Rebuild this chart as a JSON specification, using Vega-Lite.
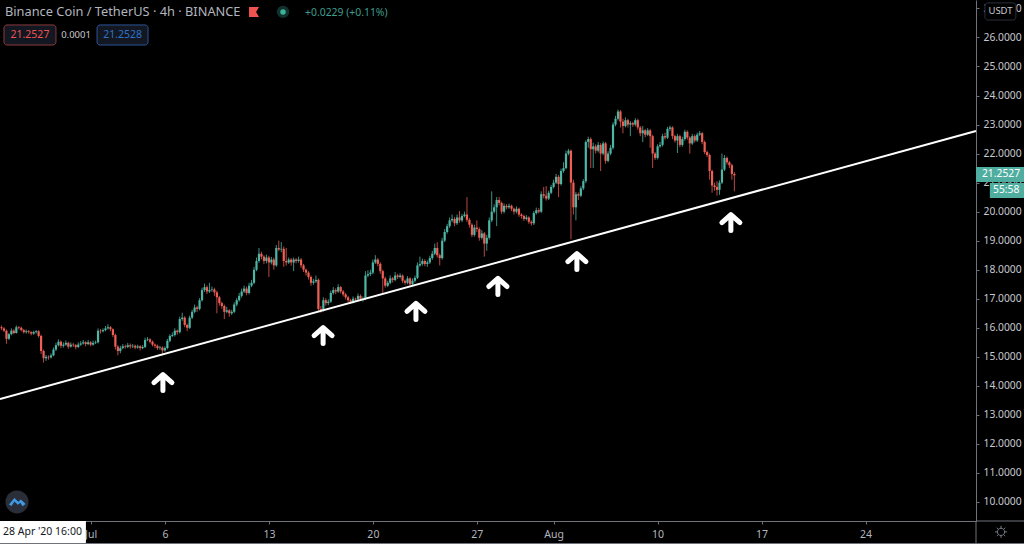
{
"$schema":"https://vega.github.io/schema/vega-lite/v6.json",
"width":976,"height":521,
"autosize":{"type":"none"},
"padding":{"left":0,"top":0,"right":48,"bottom":23},
"background":"#000000",
"config":{"view":{"stroke":null},"font":"Noto Sans"},
"datasets":{
"candles":[
{"t":1,"o":16.02,"h":16.08,"l":15.92,"c":15.98},{"t":2,"o":15.98,"h":16.02,"l":15.85,"c":15.9},{"t":3,"o":15.9,"h":15.94,"l":15.45,"c":15.62},{"t":4,"o":15.62,"h":15.82,"l":15.58,"c":15.78},{"t":5,"o":15.78,"h":15.98,"l":15.74,"c":15.9},{"t":6,"o":15.9,"h":15.96,"l":15.78,"c":15.82},{"t":7,"o":15.82,"h":16.08,"l":15.8,"c":16.02},{"t":8,"o":16.02,"h":16.06,"l":15.94,"c":16},{"t":9,"o":16,"h":16.04,"l":15.88,"c":15.92},{"t":10,"o":15.92,"h":15.96,"l":15.8,"c":15.85},
{"t":11,"o":15.85,"h":15.94,"l":15.8,"c":15.88},{"t":12,"o":15.88,"h":15.92,"l":15.8,"c":15.85},{"t":13,"o":15.85,"h":15.88,"l":15.74,"c":15.8},{"t":14,"o":15.8,"h":15.9,"l":15.76,"c":15.85},{"t":15,"o":15.85,"h":15.92,"l":15.8,"c":15.88},{"t":16,"o":15.88,"h":15.92,"l":15.66,"c":15.72},{"t":17,"o":15.72,"h":15.76,"l":15.1,"c":15.2},{"t":18,"o":15.2,"h":15.25,"l":14.8,"c":14.95},{"t":19,"o":14.95,"h":15.06,"l":14.86,"c":15},{"t":20,"o":15,"h":15.05,"l":14.9,"c":14.98},
{"t":21,"o":14.98,"h":15.12,"l":14.94,"c":15.05},{"t":22,"o":15.05,"h":15.32,"l":15.02,"c":15.25},{"t":23,"o":15.25,"h":15.48,"l":15.2,"c":15.4},{"t":24,"o":15.4,"h":15.6,"l":15.36,"c":15.52},{"t":25,"o":15.52,"h":15.56,"l":15.3,"c":15.38},{"t":26,"o":15.38,"h":15.5,"l":15.32,"c":15.42},{"t":27,"o":15.42,"h":15.56,"l":15.38,"c":15.48},{"t":28,"o":15.48,"h":15.52,"l":15.28,"c":15.35},{"t":29,"o":15.35,"h":15.5,"l":15.32,"c":15.42},{"t":30,"o":15.42,"h":15.48,"l":15.34,"c":15.4},
{"t":31,"o":15.4,"h":15.44,"l":15.26,"c":15.34},{"t":32,"o":15.34,"h":15.5,"l":15.3,"c":15.42},{"t":33,"o":15.42,"h":15.54,"l":15.38,"c":15.46},{"t":34,"o":15.46,"h":15.58,"l":15.42,"c":15.5},{"t":35,"o":15.5,"h":15.54,"l":15.36,"c":15.44},{"t":36,"o":15.44,"h":15.58,"l":15.4,"c":15.5},{"t":37,"o":15.5,"h":15.54,"l":15.36,"c":15.42},{"t":38,"o":15.42,"h":15.56,"l":15.38,"c":15.48},{"t":39,"o":15.48,"h":15.56,"l":15.44,"c":15.5},{"t":40,"o":15.5,"h":15.98,"l":15.46,"c":15.9},
{"t":41,"o":15.9,"h":15.96,"l":15.8,"c":15.88},{"t":42,"o":15.88,"h":15.98,"l":15.84,"c":15.92},{"t":43,"o":15.92,"h":16.06,"l":15.88,"c":15.98},{"t":44,"o":15.98,"h":16.12,"l":15.94,"c":16.02},{"t":45,"o":16.02,"h":16.06,"l":15.88,"c":15.95},{"t":46,"o":15.95,"h":15.98,"l":15.68,"c":15.75},{"t":47,"o":15.75,"h":15.8,"l":15.25,"c":15.35},{"t":48,"o":15.35,"h":15.4,"l":15.05,"c":15.2},{"t":49,"o":15.2,"h":15.38,"l":15.12,"c":15.3},{"t":50,"o":15.3,"h":15.44,"l":15.26,"c":15.36},
{"t":51,"o":15.36,"h":15.42,"l":15.28,"c":15.34},{"t":52,"o":15.34,"h":15.48,"l":15.3,"c":15.4},{"t":53,"o":15.4,"h":15.46,"l":15.28,"c":15.36},{"t":54,"o":15.36,"h":15.44,"l":15.3,"c":15.38},{"t":55,"o":15.38,"h":15.42,"l":15.26,"c":15.32},{"t":56,"o":15.32,"h":15.42,"l":15.28,"c":15.36},{"t":57,"o":15.36,"h":15.4,"l":15.22,"c":15.3},{"t":58,"o":15.3,"h":15.4,"l":15.26,"c":15.34},{"t":59,"o":15.34,"h":15.66,"l":15.3,"c":15.58},{"t":60,"o":15.58,"h":15.68,"l":15.54,"c":15.6},
{"t":61,"o":15.6,"h":15.64,"l":15.46,"c":15.52},{"t":62,"o":15.52,"h":15.56,"l":15.36,"c":15.42},{"t":63,"o":15.42,"h":15.46,"l":15.3,"c":15.38},{"t":64,"o":15.38,"h":15.42,"l":15.24,"c":15.3},{"t":65,"o":15.3,"h":15.38,"l":15.24,"c":15.32},{"t":66,"o":15.32,"h":15.36,"l":15.05,"c":15.22},{"t":67,"o":15.22,"h":15.36,"l":15.18,"c":15.3},{"t":68,"o":15.3,"h":15.62,"l":15.26,"c":15.55},{"t":69,"o":15.55,"h":15.78,"l":15.5,"c":15.72},{"t":70,"o":15.72,"h":15.84,"l":15.68,"c":15.75},
{"t":71,"o":15.75,"h":15.98,"l":15.7,"c":15.9},{"t":72,"o":15.9,"h":15.94,"l":15.76,"c":15.85},{"t":73,"o":15.85,"h":16.38,"l":15.8,"c":16.3},{"t":74,"o":16.3,"h":16.52,"l":16.24,"c":16.35},{"t":75,"o":16.35,"h":16.4,"l":16.02,"c":16.1},{"t":76,"o":16.1,"h":16.14,"l":15.88,"c":16},{"t":77,"o":16,"h":16.42,"l":15.96,"c":16.35},{"t":78,"o":16.35,"h":16.62,"l":16.3,"c":16.55},{"t":79,"o":16.55,"h":16.8,"l":16.5,"c":16.7},{"t":80,"o":16.7,"h":16.76,"l":16.54,"c":16.65},
{"t":81,"o":16.65,"h":17.02,"l":16.6,"c":16.95},{"t":82,"o":16.95,"h":17.38,"l":16.9,"c":17.3},{"t":83,"o":17.3,"h":17.52,"l":17.24,"c":17.4},{"t":84,"o":17.4,"h":17.46,"l":17.16,"c":17.25},{"t":85,"o":17.25,"h":17.55,"l":17.2,"c":17.3},{"t":86,"o":17.3,"h":17.42,"l":17.24,"c":17.32},{"t":87,"o":17.32,"h":17.38,"l":17.1,"c":17.22},{"t":88,"o":17.22,"h":17.28,"l":16.5,"c":17.05},{"t":89,"o":17.05,"h":17.1,"l":16.76,"c":16.85},{"t":90,"o":16.85,"h":16.9,"l":16.66,"c":16.75},
{"t":91,"o":16.75,"h":16.8,"l":16.3,"c":16.55},{"t":92,"o":16.55,"h":16.72,"l":16.5,"c":16.6},{"t":93,"o":16.6,"h":16.64,"l":16.38,"c":16.5},{"t":94,"o":16.5,"h":16.62,"l":16.44,"c":16.55},{"t":95,"o":16.55,"h":16.88,"l":16.5,"c":16.8},{"t":96,"o":16.8,"h":17.02,"l":16.74,"c":16.95},{"t":97,"o":16.95,"h":17.2,"l":16.9,"c":17.1},{"t":98,"o":17.1,"h":17.35,"l":17.04,"c":17.25},{"t":99,"o":17.25,"h":17.45,"l":17.2,"c":17.35},{"t":100,"o":17.35,"h":17.42,"l":17.12,"c":17.2},
{"t":101,"o":17.2,"h":17.55,"l":17.15,"c":17.45},{"t":102,"o":17.45,"h":17.65,"l":17.4,"c":17.55},{"t":103,"o":17.55,"h":18.1,"l":17.5,"c":18},{"t":104,"o":18,"h":18.42,"l":17.95,"c":18.3},{"t":105,"o":18.3,"h":18.75,"l":18.24,"c":18.55},{"t":106,"o":18.55,"h":18.62,"l":18.36,"c":18.45},{"t":107,"o":18.45,"h":18.5,"l":18.2,"c":18.3},{"t":108,"o":18.3,"h":18.52,"l":18.22,"c":18.42},{"t":109,"o":18.42,"h":18.48,"l":17.75,"c":18.25},{"t":110,"o":18.25,"h":18.44,"l":18.18,"c":18.35},
{"t":111,"o":18.35,"h":18.42,"l":18,"c":18.15},{"t":112,"o":18.15,"h":18.85,"l":18.1,"c":18.75},{"t":113,"o":18.75,"h":19,"l":18.64,"c":18.7},{"t":114,"o":18.7,"h":18.95,"l":18.6,"c":18.72},{"t":115,"o":18.72,"h":18.8,"l":18.1,"c":18.3},{"t":116,"o":18.3,"h":18.75,"l":18.14,"c":18.25},{"t":117,"o":18.25,"h":18.42,"l":18.2,"c":18.35},{"t":118,"o":18.35,"h":18.4,"l":18.14,"c":18.25},{"t":119,"o":18.25,"h":18.42,"l":17.95,"c":18.35},{"t":120,"o":18.35,"h":18.4,"l":18.22,"c":18.3},
{"t":121,"o":18.3,"h":18.45,"l":18.24,"c":18.35},{"t":122,"o":18.35,"h":18.4,"l":18.06,"c":18.15},{"t":123,"o":18.15,"h":18.2,"l":17.92,"c":18},{"t":124,"o":18,"h":18.04,"l":17.8,"c":17.9},{"t":125,"o":17.9,"h":17.95,"l":17.66,"c":17.75},{"t":126,"o":17.75,"h":17.8,"l":17.45,"c":17.55},{"t":127,"o":17.55,"h":17.68,"l":17.48,"c":17.6},{"t":128,"o":17.6,"h":17.8,"l":17.54,"c":17.65},{"t":129,"o":17.65,"h":17.7,"l":16.55,"c":16.65},{"t":130,"o":16.65,"h":16.75,"l":16.52,"c":16.6},
{"t":131,"o":16.6,"h":17.05,"l":16.56,"c":16.95},{"t":132,"o":16.95,"h":17.02,"l":16.76,"c":16.85},{"t":133,"o":16.85,"h":16.98,"l":16.78,"c":16.9},{"t":134,"o":16.9,"h":17.28,"l":16.86,"c":17.2},{"t":135,"o":17.2,"h":17.4,"l":17.14,"c":17.3},{"t":136,"o":17.3,"h":17.36,"l":17.16,"c":17.25},{"t":137,"o":17.25,"h":17.5,"l":17.2,"c":17.4},{"t":138,"o":17.4,"h":17.44,"l":17.18,"c":17.25},{"t":139,"o":17.25,"h":17.3,"l":17.08,"c":17.15},{"t":140,"o":17.15,"h":17.2,"l":16.98,"c":17.05},
{"t":141,"o":17.05,"h":17.1,"l":16.88,"c":16.95},{"t":142,"o":16.95,"h":17,"l":16.82,"c":16.9},{"t":143,"o":16.9,"h":17.08,"l":16.84,"c":17},{"t":144,"o":17,"h":17.04,"l":16.9,"c":16.98},{"t":145,"o":16.98,"h":17.18,"l":16.92,"c":17.1},{"t":146,"o":17.1,"h":17.15,"l":16.92,"c":17},{"t":147,"o":17,"h":17.08,"l":16.9,"c":17},{"t":148,"o":17,"h":17.95,"l":16.95,"c":17.8},{"t":149,"o":17.8,"h":17.98,"l":17.74,"c":17.85},{"t":150,"o":17.85,"h":18,"l":17.78,"c":17.9},
{"t":151,"o":17.9,"h":18.35,"l":17.84,"c":18.25},{"t":152,"o":18.25,"h":18.5,"l":18.2,"c":18.35},{"t":153,"o":18.35,"h":18.4,"l":18.12,"c":18.2},{"t":154,"o":18.2,"h":18.26,"l":17.86,"c":17.95},{"t":155,"o":17.95,"h":18,"l":17.2,"c":17.7},{"t":156,"o":17.7,"h":17.76,"l":17.38,"c":17.45},{"t":157,"o":17.45,"h":17.62,"l":17.4,"c":17.55},{"t":158,"o":17.55,"h":17.8,"l":17.5,"c":17.7},{"t":159,"o":17.7,"h":17.75,"l":17.56,"c":17.65},{"t":160,"o":17.65,"h":17.92,"l":17.6,"c":17.8},
{"t":161,"o":17.8,"h":17.86,"l":17.68,"c":17.75},{"t":162,"o":17.75,"h":17.88,"l":17.7,"c":17.8},{"t":163,"o":17.8,"h":17.84,"l":17.54,"c":17.62},{"t":164,"o":17.62,"h":17.66,"l":17.48,"c":17.55},{"t":165,"o":17.55,"h":17.78,"l":17.5,"c":17.7},{"t":166,"o":17.7,"h":17.74,"l":17.42,"c":17.5},{"t":167,"o":17.5,"h":17.7,"l":17.46,"c":17.62},{"t":168,"o":17.62,"h":17.8,"l":17.56,"c":17.72},{"t":169,"o":17.72,"h":18.25,"l":17.68,"c":18.15},{"t":170,"o":18.15,"h":18.45,"l":18.1,"c":18.2},
{"t":171,"o":18.2,"h":18.38,"l":18.14,"c":18.3},{"t":172,"o":18.3,"h":18.36,"l":18.12,"c":18.2},{"t":173,"o":18.2,"h":18.32,"l":18.1,"c":18.25},{"t":174,"o":18.25,"h":18.48,"l":18.2,"c":18.4},{"t":175,"o":18.4,"h":18.65,"l":18.34,"c":18.55},{"t":176,"o":18.55,"h":18.9,"l":18.5,"c":18.75},{"t":177,"o":18.75,"h":18.95,"l":18.42,"c":18.5},{"t":178,"o":18.5,"h":18.56,"l":18.15,"c":18.4},{"t":179,"o":18.4,"h":19.1,"l":18.35,"c":19},{"t":180,"o":19,"h":19.4,"l":18.95,"c":19.3},
{"t":181,"o":19.3,"h":19.58,"l":19.24,"c":19.5},{"t":182,"o":19.5,"h":19.8,"l":19.44,"c":19.7},{"t":183,"o":19.7,"h":19.9,"l":19.64,"c":19.75},{"t":184,"o":19.75,"h":19.82,"l":19.5,"c":19.6},{"t":185,"o":19.6,"h":19.9,"l":19.54,"c":19.8},{"t":186,"o":19.8,"h":20.02,"l":19.62,"c":19.7},{"t":187,"o":19.7,"h":19.92,"l":19.64,"c":19.85},{"t":188,"o":19.85,"h":20,"l":19.8,"c":19.9},{"t":189,"o":19.9,"h":20.5,"l":19.64,"c":19.72},{"t":190,"o":19.72,"h":19.78,"l":19.45,"c":19.55},
{"t":191,"o":19.55,"h":19.6,"l":19.12,"c":19.2},{"t":192,"o":19.2,"h":19.55,"l":19.14,"c":19.45},{"t":193,"o":19.45,"h":19.7,"l":19.3,"c":19.4},{"t":194,"o":19.4,"h":19.46,"l":19,"c":19.1},{"t":195,"o":19.1,"h":19.36,"l":19.04,"c":19.25},{"t":196,"o":19.25,"h":19.3,"l":18.45,"c":18.9},{"t":197,"o":18.9,"h":19.2,"l":18.65,"c":19.1},{"t":198,"o":19.1,"h":19.8,"l":19.04,"c":19.7},{"t":199,"o":19.7,"h":20.7,"l":19.64,"c":20},{"t":200,"o":20,"h":20.25,"l":19.94,"c":20.15},
{"t":201,"o":20.15,"h":20.5,"l":19.5,"c":20.4},{"t":202,"o":20.4,"h":20.5,"l":20.22,"c":20.3},{"t":203,"o":20.3,"h":20.35,"l":19.92,"c":20},{"t":204,"o":20,"h":20.28,"l":19.94,"c":20.2},{"t":205,"o":20.2,"h":20.26,"l":20.08,"c":20.15},{"t":206,"o":20.15,"h":20.28,"l":20.1,"c":20.2},{"t":207,"o":20.2,"h":20.24,"l":20.02,"c":20.1},{"t":208,"o":20.1,"h":20.14,"l":19.9,"c":20},{"t":209,"o":20,"h":20.18,"l":19.94,"c":20.1},{"t":210,"o":20.1,"h":20.14,"l":19.82,"c":19.9},
{"t":211,"o":19.9,"h":19.95,"l":19.76,"c":19.85},{"t":212,"o":19.85,"h":19.9,"l":19.68,"c":19.75},{"t":213,"o":19.75,"h":19.88,"l":19.7,"c":19.8},{"t":214,"o":19.8,"h":19.84,"l":19.58,"c":19.65},{"t":215,"o":19.65,"h":19.7,"l":19.52,"c":19.6},{"t":216,"o":19.6,"h":20.02,"l":19.54,"c":19.95},{"t":217,"o":19.95,"h":20.14,"l":19.9,"c":20.05},{"t":218,"o":20.05,"h":20.12,"l":19.94,"c":20},{"t":219,"o":20,"h":20.7,"l":19.95,"c":20.6},{"t":220,"o":20.6,"h":20.85,"l":20.46,"c":20.55},
{"t":221,"o":20.55,"h":20.88,"l":20.38,"c":20.45},{"t":222,"o":20.45,"h":20.72,"l":20.4,"c":20.65},{"t":223,"o":20.65,"h":20.92,"l":20.6,"c":20.85},{"t":224,"o":20.85,"h":21.1,"l":20.8,"c":21},{"t":225,"o":21,"h":21.3,"l":20.95,"c":21.2},{"t":226,"o":21.2,"h":21.26,"l":20.5,"c":20.95},{"t":227,"o":20.95,"h":21.48,"l":20.9,"c":21.4},{"t":228,"o":21.4,"h":21.7,"l":21.34,"c":21.5},{"t":229,"o":21.5,"h":22.1,"l":21.46,"c":22},{"t":230,"o":22,"h":22.16,"l":21.94,"c":22.1},
{"t":231,"o":22.1,"h":22.14,"l":19.05,"c":21},{"t":232,"o":21,"h":21.1,"l":19.9,"c":20.15},{"t":233,"o":20.15,"h":20.68,"l":19.7,"c":20.6},{"t":234,"o":20.6,"h":20.66,"l":20.4,"c":20.55},{"t":235,"o":20.55,"h":20.88,"l":20.5,"c":20.8},{"t":236,"o":20.8,"h":21.12,"l":20.74,"c":21.05},{"t":237,"o":21.05,"h":22.46,"l":20.98,"c":22.4},{"t":238,"o":22.4,"h":22.58,"l":22.2,"c":22.5},{"t":239,"o":22.5,"h":22.56,"l":21.5,"c":22.15},{"t":240,"o":22.15,"h":22.38,"l":21.5,"c":22.25},
{"t":241,"o":22.25,"h":22.32,"l":22,"c":22.1},{"t":242,"o":22.1,"h":22.4,"l":22.04,"c":22.3},{"t":243,"o":22.3,"h":22.36,"l":21.4,"c":22},{"t":244,"o":22,"h":22.42,"l":21.94,"c":22.35},{"t":245,"o":22.35,"h":22.4,"l":21.65,"c":21.75},{"t":246,"o":21.75,"h":22.08,"l":21.7,"c":22},{"t":247,"o":22,"h":22.3,"l":21.94,"c":22.2},{"t":248,"o":22.2,"h":23.08,"l":22.14,"c":23},{"t":249,"o":23,"h":23.3,"l":22.94,"c":23.2},{"t":250,"o":23.2,"h":23.52,"l":23.14,"c":23.45},
{"t":251,"o":23.45,"h":23.5,"l":22.9,"c":23.1},{"t":252,"o":23.1,"h":23.2,"l":22.7,"c":22.95},{"t":253,"o":22.95,"h":23.25,"l":22.9,"c":23.15},{"t":254,"o":23.15,"h":23.2,"l":22.9,"c":23},{"t":255,"o":23,"h":23.12,"l":22.6,"c":23.05},{"t":256,"o":23.05,"h":23.1,"l":22.92,"c":23},{"t":257,"o":23,"h":23.22,"l":22.94,"c":23.15},{"t":258,"o":23.15,"h":23.2,"l":22.82,"c":22.9},{"t":259,"o":22.9,"h":22.95,"l":22.6,"c":22.7},{"t":260,"o":22.7,"h":22.95,"l":22.4,"c":22.8},
{"t":261,"o":22.8,"h":22.85,"l":22.56,"c":22.65},{"t":262,"o":22.65,"h":22.88,"l":22.6,"c":22.8},{"t":263,"o":22.8,"h":22.85,"l":22.2,"c":22.6},{"t":264,"o":22.6,"h":22.65,"l":21.5,"c":22},{"t":265,"o":22,"h":22.05,"l":21.78,"c":21.85},{"t":266,"o":21.85,"h":22.32,"l":21.8,"c":22.25},{"t":267,"o":22.25,"h":22.4,"l":22.2,"c":22.3},{"t":268,"o":22.3,"h":22.68,"l":22.24,"c":22.6},{"t":269,"o":22.6,"h":22.72,"l":22.48,"c":22.55},{"t":270,"o":22.55,"h":22.92,"l":22.5,"c":22.85},
{"t":271,"o":22.85,"h":22.96,"l":22.78,"c":22.9},{"t":272,"o":22.9,"h":22.94,"l":22.5,"c":22.6},{"t":273,"o":22.6,"h":22.65,"l":22.38,"c":22.45},{"t":274,"o":22.45,"h":22.68,"l":22.02,"c":22.6},{"t":275,"o":22.6,"h":22.65,"l":22.22,"c":22.3},{"t":276,"o":22.3,"h":22.58,"l":22.24,"c":22.5},{"t":277,"o":22.5,"h":22.82,"l":22.44,"c":22.75},{"t":278,"o":22.75,"h":22.8,"l":22.48,"c":22.55},{"t":279,"o":22.55,"h":22.6,"l":22,"c":22.35},{"t":280,"o":22.35,"h":22.68,"l":22.3,"c":22.6},
{"t":281,"o":22.6,"h":22.66,"l":22.38,"c":22.45},{"t":282,"o":22.45,"h":22.72,"l":22.4,"c":22.65},{"t":283,"o":22.65,"h":22.78,"l":22.6,"c":22.7},{"t":284,"o":22.7,"h":22.74,"l":22.32,"c":22.4},{"t":285,"o":22.4,"h":22.45,"l":21.98,"c":22.05},{"t":286,"o":22.05,"h":22.1,"l":21.88,"c":21.95},{"t":287,"o":21.95,"h":22,"l":21.1,"c":21.4},{"t":288,"o":21.4,"h":21.45,"l":20.65,"c":20.9},{"t":289,"o":20.9,"h":21,"l":20.72,"c":20.85},{"t":290,"o":20.85,"h":21.05,"l":20.55,"c":20.75},
{"t":291,"o":20.75,"h":21.08,"l":20.58,"c":21},{"t":292,"o":21,"h":22,"l":20.95,"c":21.45},{"t":293,"o":21.45,"h":21.95,"l":21.4,"c":21.85},{"t":294,"o":21.85,"h":21.9,"l":21.62,"c":21.7},{"t":295,"o":21.7,"h":21.75,"l":21.5,"c":21.6},{"t":296,"o":21.6,"h":21.65,"l":21.1,"c":21.3},{"t":297,"o":21.3,"h":21.36,"l":20.7,"c":21.25}
],
"trend":[{"t":0.4,"p":13.548},{"t":394.6,"p":22.78}],
"arrows":[{"t":66.2,"p":14.13},{"t":130.9,"p":15.75},{"t":168.4,"p":16.58},{"t":201.5,"p":17.44},{"t":233.4,"p":18.3},{"t":295.6,"p":19.64}]
},
"layer":[
{"data":{"name":"candles"},"mark":{"type":"rule","strokeWidth":1,"opacity":0.85},
 "encoding":{
  "x":{"field":"t","type":"quantitative","title":null,"scale":{"domain":[0.4,394.6],"nice":false,"zero":false,"padding":0},
   "axis":{"orient":"bottom","values":[37,67,109,151,193,224,266,308,350],"tickCount":25,"labelExpr":"['Jul','6','13','20','27','Aug','10','17','24'][indexof([37,67,109,151,193,224,266,308,350],datum.value)]","grid":false,"domainColor":"#6f727a","tickColor":"#6f727a","tickSize":3,"labelColor":"#b2b5be","labelFontSize":10.5,"labelPadding":5,"labelFlush":false,"labelOverlap":false}},
  "y":{"field":"l","type":"quantitative","title":null,"scale":{"domain":[9.345,27.29],"nice":false,"zero":false},
   "axis":{"orient":"right","values":[10,11,12,13,14,15,16,17,18,19,20,21,22,23,24,25,26,27],"tickCount":18,"format":".4f","grid":false,"domainColor":"#6f727a","tickColor":"#6f727a","tickSize":3,"labelColor":"#c8cad0","labelFontSize":10.3,"labelPadding":4,"labelFlush":false,"labelOverlap":false}},
  "y2":{"field":"h"},
  "color":{"condition":{"test":"datum.c>=datum.o","value":"#46a99a"},"value":"#d9544b"}
 }},
{"data":{"name":"candles"},"mark":{"type":"bar","size":2.2},
 "encoding":{
  "x":{"field":"t","type":"quantitative"},
  "y":{"field":"o","type":"quantitative"},
  "y2":{"field":"c"},
  "color":{"condition":{"test":"datum.c>=datum.o","value":"#4db6a5"},"value":"#ef5f55"}
 }},
{"data":{"name":"trend"},"mark":{"type":"line","color":"#ffffff","strokeWidth":2},
 "encoding":{"x":{"field":"t","type":"quantitative"},"y":{"field":"p","type":"quantitative"}}},
{"data":{"name":"arrows"},"mark":{"type":"point","shape":"M-0.9,0.05 L0,-0.75 L0.9,0.05 M0,-0.6 L0,0.85","size":400,"filled":false,"color":"#ffffff","strokeWidth":5,"strokeCap":"round","strokeJoin":"round","opacity":1},
 "encoding":{"x":{"field":"t","type":"quantitative"},"y":{"field":"p","type":"quantitative"}}},
{"data":{"values":[{"t":394.6,"x2":394.6,"p":9.345,"p2":8.57},{"t":394.6,"x2":414,"p":9.345,"p2":9.345},{"t":0.4,"x2":414,"p":8.57,"p2":8.57}]},"mark":{"type":"rule","color":"#6f727a","strokeWidth":1},
 "encoding":{"x":{"field":"t","type":"quantitative"},"x2":{"field":"x2"},"y":{"field":"p","type":"quantitative"},"y2":{"field":"p2"}}},
{"data":{"values":[{"t":0.4,"x2":35.1,"p":9.345,"p2":8.59}]},"mark":{"type":"rect","color":"#ffffff"},
 "encoding":{"x":{"field":"t","type":"quantitative"},"x2":{"field":"x2"},"y":{"field":"p","type":"quantitative"},"y2":{"field":"p2"}}},
{"data":{"values":[{"t":1.6,"p":8.97,"text":"28 Apr '20   16:00"}]},"mark":{"type":"text","align":"left","baseline":"middle","color":"#131722","fontSize":10.5},
 "encoding":{"x":{"field":"t","type":"quantitative"},"y":{"field":"p","type":"quantitative"},"text":{"field":"text"}}},
{"data":{"values":[{"t":7.27,"p":10}]},"mark":{"type":"point","shape":"circle","size":530,"filled":true,"color":"#2a2e39","opacity":1},
 "encoding":{"x":{"field":"t","type":"quantitative"},"y":{"field":"p","type":"quantitative"}}},
{"data":{"values":[{"t":7.27,"p":10}]},"mark":{"type":"point","shape":"M-0.62,0.2 L-0.2,-0.3 L0.1,-0.02 L0.3,-0.2 L0.66,0.15 L0.42,0.32 L0.26,0.06 L0.06,0.22 L-0.2,-0.04 L-0.42,0.3 Z","size":676,"filled":true,"color":"#3f9be8","opacity":1},
 "encoding":{"x":{"field":"t","type":"quantitative"},"y":{"field":"p","type":"quantitative"}}},
{"data":{"values":[{"t":404.7,"p":8.97}]},"mark":{"type":"point","shape":"M0.6,0 A0.6,0.6 0 1 1 -0.6,0 A0.6,0.6 0 1 1 0.6,0 M0,-0.6 L0,-1 M0,0.6 L0,1 M-0.6,0 L-1,0 M0.6,0 L1,0 M0.42,0.42 L0.7,0.7 M-0.42,0.42 L-0.7,0.7 M0.42,-0.42 L0.7,-0.7 M-0.42,-0.42 L-0.7,-0.7","size":144,"filled":false,"color":"#787b86","strokeWidth":1,"opacity":1},
 "encoding":{"x":{"field":"t","type":"quantitative"},"y":{"field":"p","type":"quantitative"}}},
{"data":{"values":[{"t":2.42,"p":26.88,"text":"Binance Coin / TetherUS · 4h · BINANCE"}]},"mark":{"type":"text","align":"left","baseline":"middle","color":"#b2b5be","fontSize":12.8,"font":"Noto Sans"},
 "encoding":{"x":{"field":"t","type":"quantitative"},"y":{"field":"p","type":"quantitative"},"text":{"field":"text"}}},
{"data":{"values":[{"t":103,"p":26.88}]},"mark":{"type":"point","shape":"M-1,-1 L1,-1 L0.4,0 L1,1 L-1,1 Z","size":100,"filled":true,"color":"#ef5350","opacity":1},
 "encoding":{"x":{"field":"t","type":"quantitative"},"y":{"field":"p","type":"quantitative"}}},
{"data":{"values":[{"t":114.7,"p":26.88}]},"mark":{"type":"point","shape":"circle","size":154,"filled":true,"color":"#12302d","opacity":1},
 "encoding":{"x":{"field":"t","type":"quantitative"},"y":{"field":"p","type":"quantitative"}}},
{"data":{"values":[{"t":114.7,"p":26.88}]},"mark":{"type":"point","shape":"circle","size":30,"filled":true,"color":"#3bb39a","opacity":1},
 "encoding":{"x":{"field":"t","type":"quantitative"},"y":{"field":"p","type":"quantitative"}}},
{"data":{"values":[{"t":123.6,"p":26.84,"text":"+0.0229 (+0.11%)"}]},"mark":{"type":"text","align":"left","baseline":"middle","color":"#3f9d8b","fontSize":10.4},
 "encoding":{"x":{"field":"t","type":"quantitative"},"y":{"field":"p","type":"quantitative"},"text":{"field":"text"}}},
{"data":{"values":[{"t":2,"x2":23,"p":26.43,"p2":25.74}]},"mark":{"type":"rect","fill":"#131722","stroke":"#8a3a3a","strokeWidth":1,"cornerRadius":3},
 "encoding":{"x":{"field":"t","type":"quantitative"},"x2":{"field":"x2"},"y":{"field":"p","type":"quantitative"},"y2":{"field":"p2"}}},
{"data":{"values":[{"t":12.5,"p":26.08,"text":"21.2527"}]},"mark":{"type":"text","baseline":"middle","color":"#ef5350","fontSize":10.5},
 "encoding":{"x":{"field":"t","type":"quantitative"},"y":{"field":"p","type":"quantitative"},"text":{"field":"text"}}},
{"data":{"values":[{"t":31.1,"p":26.08,"text":"0.0001"}]},"mark":{"type":"text","baseline":"middle","color":"#c8cad0","fontSize":9.5},
 "encoding":{"x":{"field":"t","type":"quantitative"},"y":{"field":"p","type":"quantitative"},"text":{"field":"text"}}},
{"data":{"values":[{"t":39.6,"x2":60.2,"p":26.43,"p2":25.74}]},"mark":{"type":"rect","fill":"#131722","stroke":"#2a5596","strokeWidth":1,"cornerRadius":3},
 "encoding":{"x":{"field":"t","type":"quantitative"},"x2":{"field":"x2"},"y":{"field":"p","type":"quantitative"},"y2":{"field":"p2"}}},
{"data":{"values":[{"t":49.9,"p":26.08,"text":"21.2528"}]},"mark":{"type":"text","baseline":"middle","color":"#2d74c9","fontSize":10.5},
 "encoding":{"x":{"field":"t","type":"quantitative"},"y":{"field":"p","type":"quantitative"},"text":{"field":"text"}}},
{"data":{"values":[{"t":398.2,"x2":410.7,"p":27.19,"p2":26.6}]},"mark":{"type":"rect","fill":"#000000","stroke":"#2a2e39","strokeWidth":1,"cornerRadius":3},
 "encoding":{"x":{"field":"t","type":"quantitative"},"x2":{"field":"x2"},"y":{"field":"p","type":"quantitative"},"y2":{"field":"p2"}}},
{"data":{"values":[{"t":404.5,"p":26.9,"text":"USDT"}]},"mark":{"type":"text","baseline":"middle","color":"#c8cad0","fontSize":9.5},
 "encoding":{"x":{"field":"t","type":"quantitative"},"y":{"field":"p","type":"quantitative"},"text":{"field":"text"}}},
{"data":{"values":[{"t":394.6,"x2":414,"p":21.54,"p2":21.02}]},"mark":{"type":"rect","color":"#4fae9f"},
 "encoding":{"x":{"field":"t","type":"quantitative"},"x2":{"field":"x2"},"y":{"field":"p","type":"quantitative"},"y2":{"field":"p2"}}},
{"data":{"values":[{"t":404.7,"p":21.28,"text":"21.2527"}]},"mark":{"type":"text","baseline":"middle","color":"#ffffff","fontSize":10.3},
 "encoding":{"x":{"field":"t","type":"quantitative"},"y":{"field":"p","type":"quantitative"},"text":{"field":"text"}}},
{"data":{"values":[{"t":400.2,"x2":414,"p":20.99,"p2":20.47}]},"mark":{"type":"rect","color":"#4fae9f"},
 "encoding":{"x":{"field":"t","type":"quantitative"},"x2":{"field":"x2"},"y":{"field":"p","type":"quantitative"},"y2":{"field":"p2"}}},
{"data":{"values":[{"t":406.8,"p":20.73,"text":"55:58"}]},"mark":{"type":"text","baseline":"middle","color":"#ffffff","fontSize":10.3},
 "encoding":{"x":{"field":"t","type":"quantitative"},"y":{"field":"p","type":"quantitative"},"text":{"field":"text"}}}
]
}
